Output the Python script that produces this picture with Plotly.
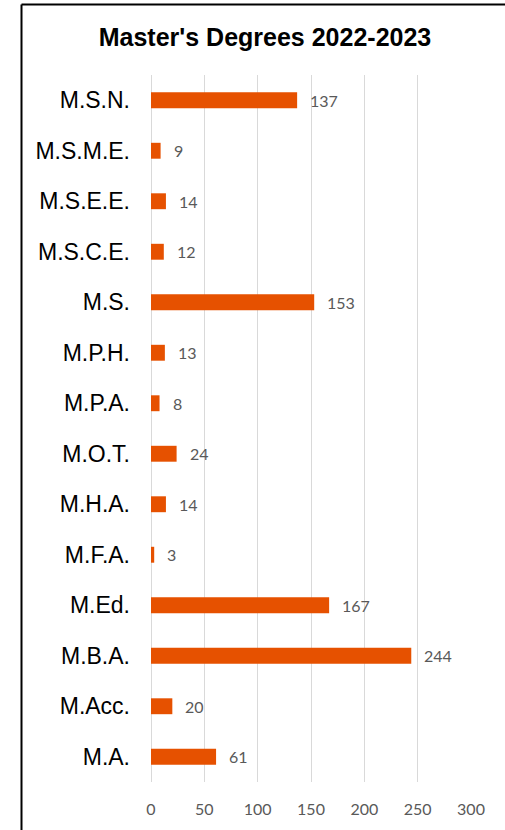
import plotly.graph_objects as go

categories = ["M.A.", "M.Acc.", "M.B.A.", "M.Ed.", "M.F.A.", "M.H.A.", "M.O.T.",
              "M.P.A.", "M.P.H.", "M.S.", "M.S.C.E.", "M.S.E.E.", "M.S.M.E.", "M.S.N."]
values = [61, 20, 244, 167, 3, 14, 24, 8, 13, 153, 12, 14, 9, 137]
x_ticks = [0, 50, 100, 150, 200, 250, 300]

BAR = "#E65100"
W, H = 505, 830
L, R, T, B = 151, 34, 75, 44

fig = go.Figure()
fig.add_trace(go.Bar(
    y=categories, x=values, orientation="h",
    marker=dict(color=BAR, line=dict(width=0)),
    hoverinfo="x+y",
))

for c, v in zip(categories, values):
    fig.add_annotation(x=v, y=c, text=str(v), xanchor="left", yanchor="middle",
                       xshift=11, yshift=0, showarrow=False,
                       font=dict(family="Lato", size=16, color="#595959"))

pw = W - L - R
ph = H - T - B
bx = (21.5 - L) / pw
by = ((H - B) - 4) / ph
# chart frame: only its left and top edges fall inside the picture
fig.add_shape(type="line", xref="paper", yref="paper",
              x0=bx, x1=bx, y0=-(900 - (H - B)) / ph, y1=by,
              line=dict(color="black", width=2), layer="above")
fig.add_shape(type="line", xref="paper", yref="paper",
              x0=bx, x1=(600 - L) / pw, y0=by, y1=by,
              line=dict(color="black", width=2), layer="above")

fig.update_layout(
    width=W, height=H,
    margin=dict(l=L, r=R, t=T, b=B, pad=0),
    paper_bgcolor="white", plot_bgcolor="white",
    bargap=0.685,
    showlegend=False,
    title=dict(text="<b>Master's Degrees 2022-2023</b>", x=265 / W, xref="container", xanchor="center",
               y=1 - 37 / H, yref="container", yanchor="middle",
               font=dict(family="Liberation Sans", size=25, color="black")),
    xaxis=dict(range=[0, 300], tickvals=x_ticks, showgrid=True, gridcolor="#d9d9d9", gridwidth=1,
               zeroline=True, zerolinecolor="#d9d9d9", zerolinewidth=1, showline=False,
               ticks="", ticklabelstandoff=16,
               tickfont=dict(family="Lato", size=16, color="#595959"), fixedrange=True),
    yaxis=dict(categoryorder="array", categoryarray=categories, showgrid=False, showline=False,
               ticks="", ticklabelstandoff=20,
               tickfont=dict(family="Liberation Sans", size=23, color="black"), fixedrange=True),
)

fig.write_html("out.html", config={"displayModeBar": False},
               post_script="document.body.style.margin='0';")
